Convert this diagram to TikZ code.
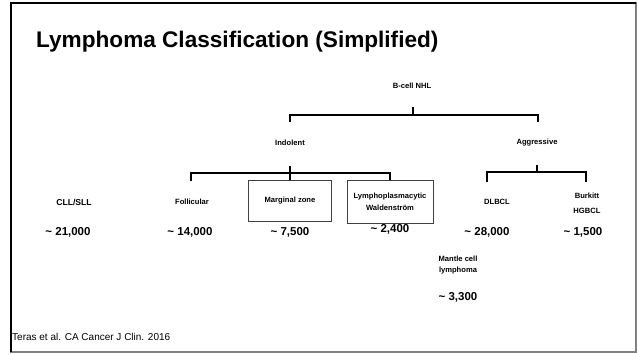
\documentclass[tikz,border=0pt]{standalone}
\usepackage{fontspec}
\setmainfont{Liberation Sans}
\begin{document}
\begin{tikzpicture}[x=1pt,y=-1pt,
  lbl/.style={font=\fontsize{7.6}{9}\selectfont\bfseries, align=center, inner sep=0pt},
  num/.style={font=\fontsize{11.5}{13}\selectfont\bfseries, inner sep=0pt},
  br/.style={line width=1.8pt, black},
  boxed/.style={draw=black!75, line width=0.8pt, minimum width=83pt, minimum height=41pt, lbl}]
\useasboundingbox (0,0) rectangle (637,354);
\fill[white] (0,0) rectangle (637,354);
% frame
\draw[black!50, line width=1.2pt] (11,3) rectangle (636,352);
\draw[black, line width=2.2pt] (11,352) -- (11,3) -- (636,3);
% title
\node[anchor=base west, inner sep=0pt, font=\fontsize{22.6}{26}\selectfont\bfseries] (title) at (36,47) {Lymphoma Classification (Simplified)};
% labels
\node[lbl] (bnhl) at (412,86) {B-cell NHL};
\node[lbl] (indolent) at (290,143) {Indolent};
\node[lbl] (aggressive) at (537,143) {Aggressive};
\node[lbl, font=\fontsize{8.6}{10}\selectfont\bfseries] (cll) at (74,202) {CLL/SLL};
\node[lbl] (foll) at (192,202) {Follicular};
\node[boxed] (marg) at (290,201) {Marginal zone};
\node[boxed, minimum width=86pt, minimum height=43pt, font=\fontsize{7.6}{12}\selectfont\bfseries] (lpl) at (390,202) {Lymphoplasmacytic\\Waldenstr\"om};
\node[lbl] (dlbcl) at (497,202) {DLBCL};
\node[lbl, font=\fontsize{7.6}{15}\selectfont\bfseries] (burk) at (587,203) {Burkitt\\HGBCL};
\node[lbl, font=\fontsize{7.6}{11}\selectfont\bfseries] (mantle) at (458,265) {Mantle cell\\lymphoma};
% numbers
\node[num] (n1) at (68,232) {\textasciitilde{} 21,000};
\node[num] (n2) at (190,232) {\textasciitilde{} 14,000};
\node[num] (n3) at (290,232) {\textasciitilde{} 7,500};
\node[num] (n4) at (390,229) {\textasciitilde{} 2,400};
\node[num] (n5) at (487,232) {\textasciitilde{} 28,000};
\node[num] (n6) at (583,232) {\textasciitilde{} 1,500};
\node[num] (n7) at (458,297) {\textasciitilde{} 3,300};
% reference
\node[anchor=west, inner sep=0pt, font=\fontsize{10}{12}\selectfont] (ref) at (12,337) {Teras et al. CA Cancer J Clin. 2016};
% bracket coordinates
\coordinate (tS) at (413,107);
\coordinate (tM) at (413,115);
\coordinate (tL) at (290,122);
\coordinate (tR) at (538,122);
\coordinate (iS) at (290,166);
\coordinate (iM) at (290,173);
\coordinate (iL) at (191,181);
\coordinate (aS) at (537,165);
\coordinate (aM) at (537,172);
\coordinate (aL) at (487,182);
\coordinate (aR) at (586,182);
% brackets
\draw[br] (tS) -- (tM);
\draw[br] (tL) |- (tM) -| (tR);
\draw[br] (iS) -- (marg.north);
\draw[br] (iL) |- (iM) -| (lpl.north);
\draw[br] (aS) -- (aM);
\draw[br] (aL) |- (aM) -| (aR);
\end{tikzpicture}
\end{document}
